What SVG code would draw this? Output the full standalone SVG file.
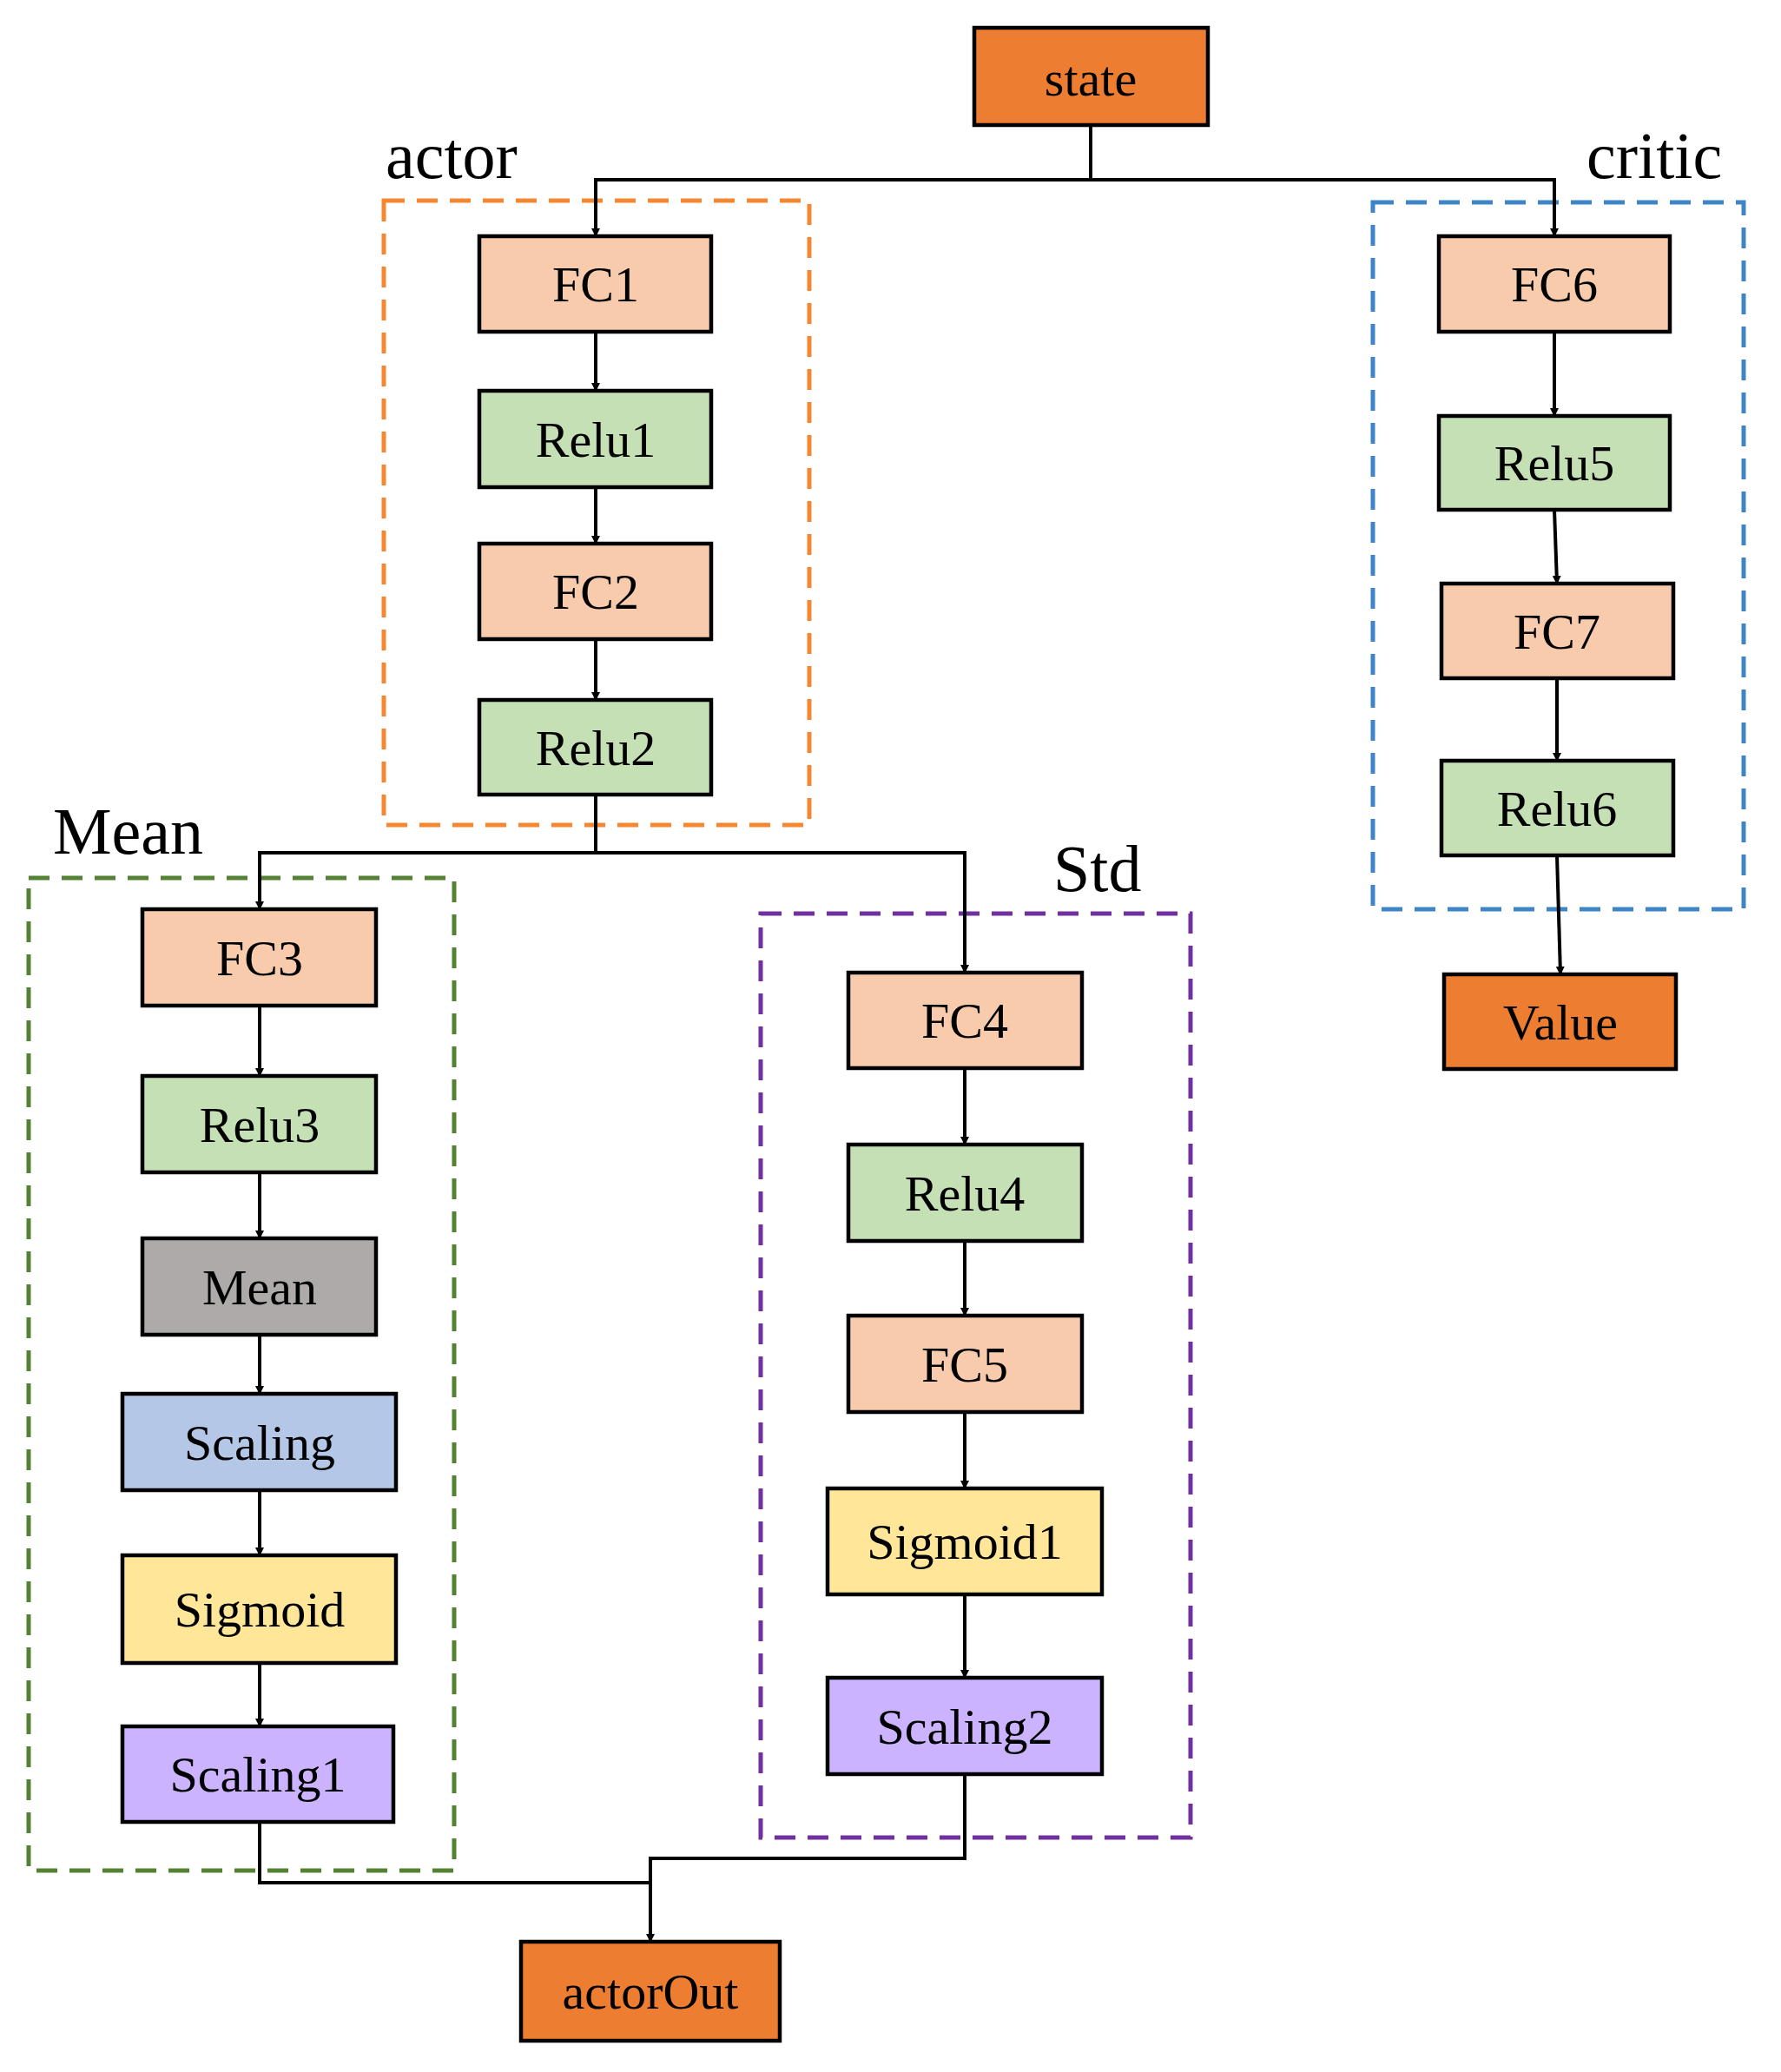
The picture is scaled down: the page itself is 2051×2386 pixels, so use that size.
<svg xmlns="http://www.w3.org/2000/svg" width="2051" height="2386" viewBox="0 0 2051 2386">
<style>
.n{stroke:#000;stroke-width:4.5}
.t{font-family:"Liberation Serif",serif;font-size:58px;text-anchor:middle;dominant-baseline:central}
.l{font-family:"Liberation Serif",serif;font-size:76px}
.g{fill:none;stroke-width:5;stroke-dasharray:24 14}
.c{fill:none;stroke:#000;stroke-width:4}
.fc{fill:#F8CBAD}.re{fill:#C5E0B4}.or{fill:#ED7D31}
</style>
<defs><marker id="a" markerWidth="10" markerHeight="10" refX="9" refY="5" orient="auto" markerUnits="userSpaceOnUse" viewBox="0 0 10 10"><path d="M0,0L10,5L0,10z"/></marker></defs>
<g id="groups">
<rect class="g" x="442" y="231" width="490" height="719" stroke="#F58733"/>
<rect class="g" x="1581" y="233" width="427" height="814" stroke="#3D85C6"/>
<rect class="g" x="33" y="1011" width="490" height="1143" stroke="#548235"/>
<rect class="g" x="876" y="1052" width="495" height="1064" stroke="#7030A0"/>
<text class="l" x="444" y="205">actor</text>
<text class="l" x="1827" y="205">critic</text>
<text class="l" x="61" y="983">Mean</text>
<text class="l" x="1213" y="1026">Std</text>
</g>
<g id="connectors" class="c">
<path d="M1256,144V207H686V272" marker-end="url(#a)"/>
<path d="M1256,207H1790V272" marker-end="url(#a)"/>
<path d="M686,382V450" marker-end="url(#a)"/>
<path d="M686,561V626" marker-end="url(#a)"/>
<path d="M686,736V806" marker-end="url(#a)"/>
<path d="M686,915V982H299V1047" marker-end="url(#a)"/>
<path d="M686,982H1111V1120" marker-end="url(#a)"/>
<path d="M1790,382V479" marker-end="url(#a)"/>
<path d="M1790,587L1793,672" marker-end="url(#a)"/>
<path d="M1793,781V876" marker-end="url(#a)"/>
<path d="M1793,985L1797,1122" marker-end="url(#a)"/>
<path d="M299,1158V1239" marker-end="url(#a)"/>
<path d="M299,1350V1426" marker-end="url(#a)"/>
<path d="M299,1537V1605" marker-end="url(#a)"/>
<path d="M299,1716V1791" marker-end="url(#a)"/>
<path d="M299,1915V1988" marker-end="url(#a)"/>
<path d="M1111,1230V1318" marker-end="url(#a)"/>
<path d="M1111,1429V1515" marker-end="url(#a)"/>
<path d="M1111,1626V1714" marker-end="url(#a)"/>
<path d="M1111,1836V1932" marker-end="url(#a)"/>
<path d="M1111,2043V2140H749V2236" marker-end="url(#a)"/>
<path d="M299,2098V2168H749"/>
</g>
<g id="state"><rect class="n or" x="1122" y="32" width="269" height="112"/><text class="t" x="1256" y="90">state</text></g>
<g id="FC1"><rect class="n fc" x="552" y="272" width="267" height="110"/><text class="t" x="686" y="327">FC1</text></g>
<g id="Relu1"><rect class="n re" x="552" y="450" width="267" height="111"/><text class="t" x="686" y="506">Relu1</text></g>
<g id="FC2"><rect class="n fc" x="552" y="626" width="267" height="110"/><text class="t" x="686" y="681">FC2</text></g>
<g id="Relu2"><rect class="n re" x="552" y="806" width="267" height="109"/><text class="t" x="686" y="861">Relu2</text></g>
<g id="FC6"><rect class="n fc" x="1657" y="272" width="266" height="110"/><text class="t" x="1790" y="327">FC6</text></g>
<g id="Relu5"><rect class="n re" x="1657" y="479" width="266" height="108"/><text class="t" x="1790" y="533">Relu5</text></g>
<g id="FC7"><rect class="n fc" x="1660" y="672" width="267" height="109"/><text class="t" x="1793" y="727">FC7</text></g>
<g id="Relu6"><rect class="n re" x="1660" y="876" width="267" height="109"/><text class="t" x="1793" y="931">Relu6</text></g>
<g id="Value"><rect class="n or" x="1663" y="1122" width="267" height="109"/><text class="t" x="1797" y="1177">Value</text></g>
<g id="FC3"><rect class="n fc" x="164" y="1047" width="269" height="111"/><text class="t" x="299" y="1103">FC3</text></g>
<g id="Relu3"><rect class="n re" x="164" y="1239" width="269" height="111"/><text class="t" x="299" y="1295">Relu3</text></g>
<g id="MeanNode"><rect class="n" fill="#AEAAAA" x="164" y="1426" width="269" height="111"/><text class="t" x="299" y="1482">Mean</text></g>
<g id="Scaling"><rect class="n" fill="#B4C7E7" x="141" y="1605" width="315" height="111"/><text class="t" x="299" y="1661">Scaling</text></g>
<g id="Sigmoid"><rect class="n" fill="#FFE699" x="141" y="1791" width="315" height="124"/><text class="t" x="299" y="1853">Sigmoid</text></g>
<g id="Scaling1"><rect class="n" fill="#CCB3FF" x="141" y="1988" width="312" height="110"/><text class="t" x="297" y="2043">Scaling1</text></g>
<g id="FC4"><rect class="n fc" x="977" y="1120" width="269" height="110"/><text class="t" x="1111" y="1175">FC4</text></g>
<g id="Relu4"><rect class="n re" x="977" y="1318" width="269" height="111"/><text class="t" x="1111" y="1374">Relu4</text></g>
<g id="FC5"><rect class="n fc" x="977" y="1515" width="269" height="111"/><text class="t" x="1111" y="1571">FC5</text></g>
<g id="Sigmoid1"><rect class="n" fill="#FFE699" x="953" y="1714" width="316" height="122"/><text class="t" x="1111" y="1775">Sigmoid1</text></g>
<g id="Scaling2"><rect class="n" fill="#CCB3FF" x="953" y="1932" width="316" height="111"/><text class="t" x="1111" y="1988">Scaling2</text></g>
<g id="actorOut"><rect class="n or" x="600" y="2236" width="298" height="114"/><text class="t" x="749" y="2293">actorOut</text></g>
</svg>
